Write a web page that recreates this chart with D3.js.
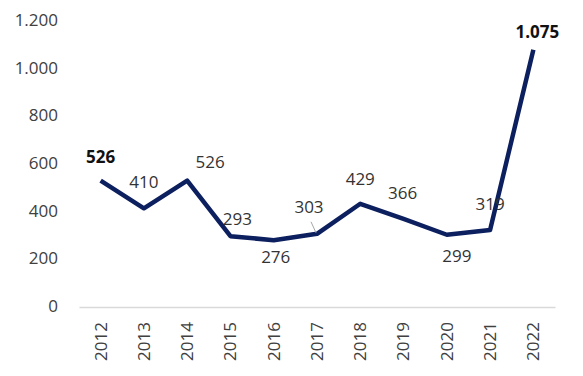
<!DOCTYPE html>
<html><head><meta charset="utf-8">
<script src="https://cdn.jsdelivr.net/npm/d3@7"></script>
<style>
html,body{margin:0;padding:0;background:#fff;}
svg{display:block;font-family:"Open Sans","Noto Sans",sans-serif;}
</style></head>
<body><svg id="c" width="583" height="376"></svg>
<script>
const years = ["2012","2013","2014","2015","2016","2017","2018","2019","2020","2021","2022"];
const values = [526, 410, 526, 293, 276, 303, 429, 366, 299, 319, 1075];
const yTicks = [0, 200, 400, 600, 800, 1000, 1200];
const boldLabels = ["2012", "2022"];
// label offsets relative to point (styling)
const labelDx = [0, 0, 23, 7, 2, -8, 0, -1, 10, 0, 4];
const labelDy = [-24, -26, -19, -17, 17, -27, -25, -26, 21, -26, -18];

const svg = d3.select("#c");
const loc = d3.formatLocale({decimal: ",", thousands: ".", grouping: [3], currency: ["", ""]});
const fmt = loc.format(",d");

const x = d3.scaleBand().domain(years).range([79, 555]);
const y = d3.scaleLinear().domain([0, 1200]).range([306, 20]);
const cx = d => x(d) + x.bandwidth() / 2;

// Y axis
const ya = svg.append("g").attr("transform", "translate(66,0)")
  .call(d3.axisLeft(y).tickValues(yTicks).tickSize(0).tickPadding(8).tickFormat(fmt));
ya.select(".domain").remove();
ya.selectAll("text").attr("font-size", 17).attr("fill", "#404040")
  .attr("font-family", "'Open Sans','Noto Sans',sans-serif");

// X axis
const xa = svg.append("g").attr("transform", "translate(0,307)")
  .call(d3.axisBottom(x).tickSize(0).tickPadding(0));
xa.select(".domain").attr("stroke", "#d9d9d9").attr("stroke-width", 1.5);
xa.selectAll("text").attr("font-size", 17).attr("fill", "#404040")
  .attr("font-family", "'Open Sans','Noto Sans',sans-serif")
  .attr("text-anchor", "end")
  .attr("transform", "translate(0,15) rotate(-90)")
  .attr("dy", "0.35em").attr("x", 0).attr("y", 0);

// Line
const data = years.map((yr, i) => ({yr, v: values[i], dx: labelDx[i], dy: labelDy[i]}));
svg.append("path").datum(data)
  .attr("fill", "none").attr("stroke", "#0c1f5e").attr("stroke-width", 4.5)
  .attr("stroke-linejoin", "round")
  .attr("d", d3.line().x(d => cx(d.yr)).y(d => y(d.v)));

// leader line for 2017
const d17 = data[5];
svg.append("line")
  .attr("x1", cx(d17.yr) - 6).attr("y1", y(d17.v) - 12)
  .attr("x2", cx(d17.yr) - 1).attr("y2", y(d17.v) - 1)
  .attr("stroke", "#a6a6a6").attr("stroke-width", 1);

// Labels
svg.selectAll(".lbl").data(data).enter().append("text")
  .attr("x", d => cx(d.yr) + d.dx)
  .attr("y", d => y(d.v) + d.dy)
  .attr("dy", "0.35em")
  .attr("text-anchor", "middle")
  .attr("font-size", 17)
  .attr("font-weight", d => boldLabels.includes(d.yr) ? "bold" : "normal")
  .attr("fill", d => boldLabels.includes(d.yr) ? "#111" : "#333")
  .text(d => fmt(d.v));
</script></body></html>
